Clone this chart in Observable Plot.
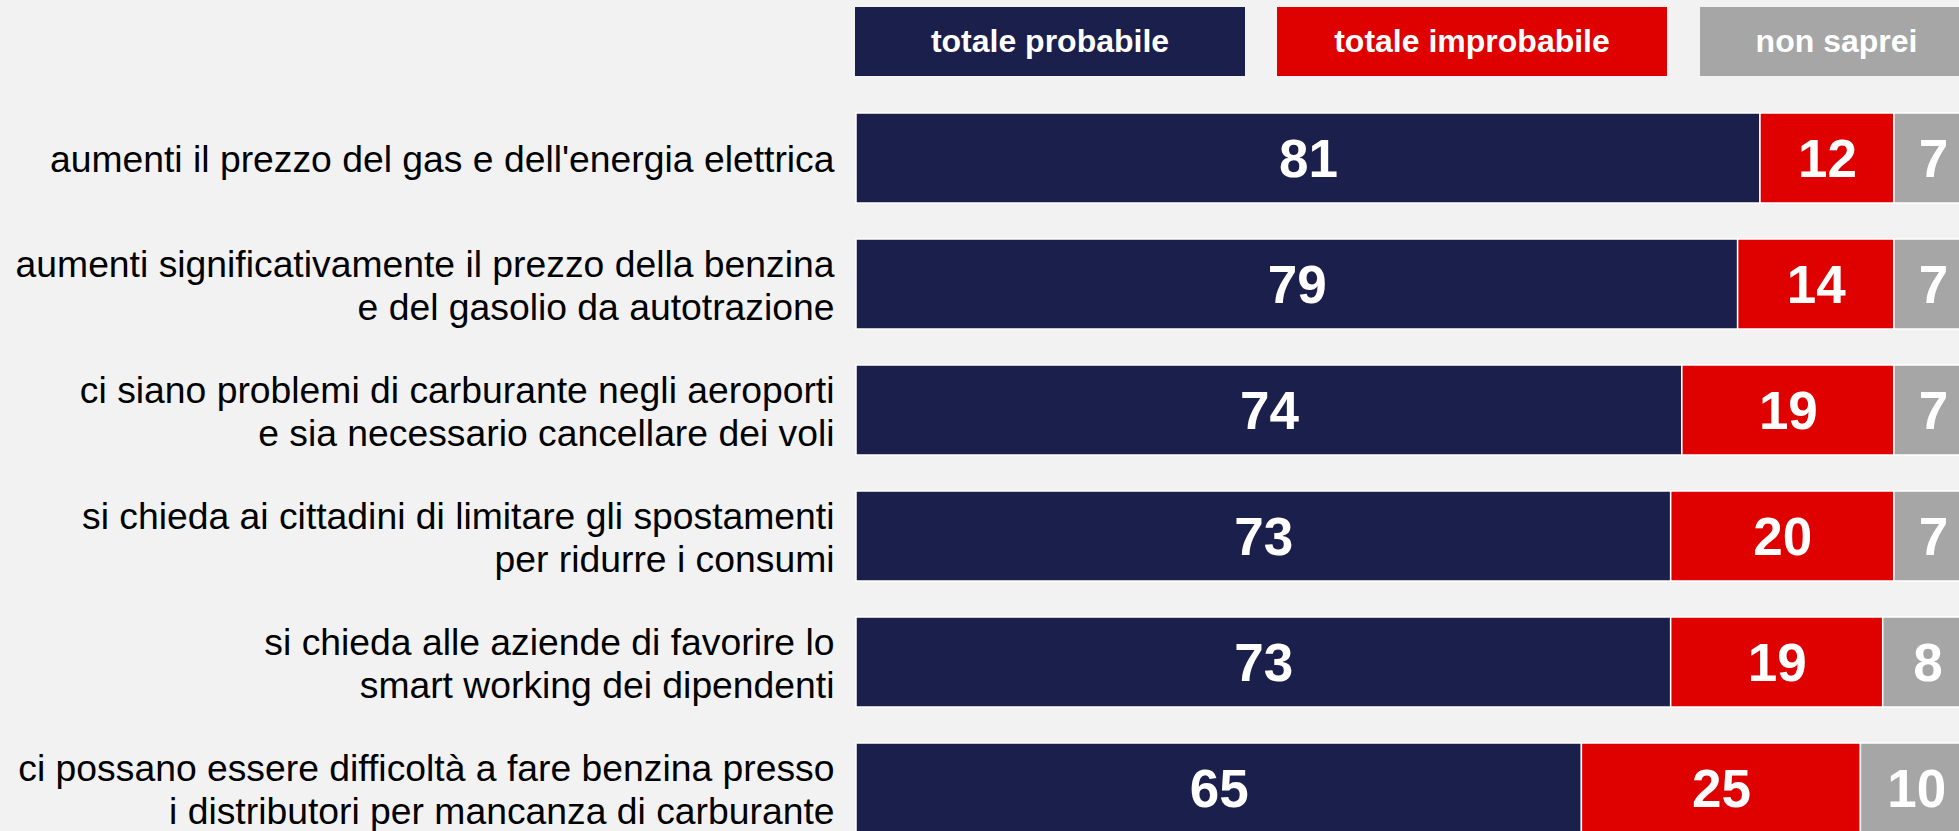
<!DOCTYPE html>
<html>
<head>
<meta charset="utf-8">
<script src="https://cdn.jsdelivr.net/npm/d3@7"></script>
<script src="https://cdn.jsdelivr.net/npm/@observablehq/plot@0.6"></script>
<style>
  html, body { margin: 0; padding: 0; background: #F2F2F2; overflow: hidden; width: 1959px; height: 831px; }
  #legend { position: relative; height: 90px; width: 1959px; }
  .lg { position: absolute; top: 7px; height: 69px; display: flex; align-items: center; justify-content: center;
        color: white; font-family: "Liberation Sans", Arial, sans-serif; font-weight: bold; font-size: 32px; }
  #chart svg { display: block; overflow: visible; }
</style>
</head>
<body>
<div id="legend"></div>
<div id="chart"></div>
<script>
const categories = [
  "aumenti il prezzo del gas e dell'energia elettrica",
  "aumenti significativamente il prezzo della benzina\ne del gasolio da autotrazione",
  "ci siano problemi di carburante negli aeroporti\ne sia necessario cancellare dei voli",
  "si chieda ai cittadini di limitare gli spostamenti\nper ridurre i consumi",
  "si chieda alle aziende di favorire lo\nsmart working dei dipendenti",
  "ci possano essere difficoltà a fare benzina presso\ni distributori per mancanza di carburante"
];
const series = ["totale probabile", "totale improbabile", "non saprei"];
const colors = ["#1B1F4B", "#DF0000", "#A6A6A6"];
const probabile = [81, 79, 74, 73, 73, 65];
const improbabile = [12, 14, 19, 20, 19, 25];
const nonSaprei = [7, 7, 7, 7, 8, 10];

const seriesValues = [probabile, improbabile, nonSaprei];
const data = [];
categories.forEach((c, i) => {
  series.forEach((s, j) => data.push({cat: c, series: s, value: seriesValues[j][i]}));
});

// legend (HTML above the SVG)
const legend = document.getElementById("legend");
const legendLeft = [855, 1277, 1700];
const legendWidth = [390, 390, 273];
series.forEach((s, j) => {
  const d = document.createElement("div");
  d.className = "lg";
  d.style.left = legendLeft[j] + "px";
  d.style.width = legendWidth[j] + "px";
  d.style.background = colors[j];
  d.textContent = s;
  legend.appendChild(d);
});

const font = "'Liberation Sans', Arial, sans-serif";
const chart = Plot.plot({
  width: 1959,
  height: 741,
  style: {background: "transparent", fontFamily: font, overflow: "visible"},
  x: {domain: [0, 100], range: [856, 1972], axis: null},
  y: {domain: categories, range: [23, 743], paddingInner: 0.286, paddingOuter: 0, axis: null},
  color: {domain: series, range: colors},
  marks: [
    Plot.barX(data, {x: "value", y: "cat", fill: "series", stroke: "white", strokeWidth: 1.5}),
    Plot.text(data, Plot.stackX({x: "value", y: "cat", text: d => String(d.value),
      fill: "white", fontSize: 53, fontWeight: "bold", dy: 2})),
    Plot.text(categories, {x: 0, y: d => d, text: d => d, textAnchor: "end", dx: -22,
      fontSize: 37.3, lineHeight: 1.15, fill: "black"})
  ]
});
document.getElementById("chart").appendChild(chart);
</script>
</body>
</html>
